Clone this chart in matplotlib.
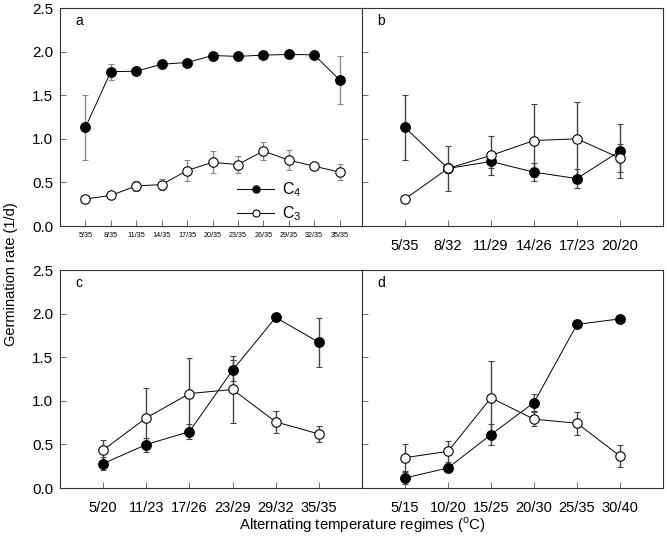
import numpy as np
import matplotlib.pyplot as plt

plt.rcParams['font.family'] = ['Liberation Sans', 'DejaVu Sans']
plt.rcParams['mathtext.fontset'] = 'custom'
plt.rcParams['mathtext.rm'] = 'Liberation Sans'

# panel a
lab_a = ['5/35', '8/35', '11/35', '14/35', '17/35', '20/35', '23/35', '26/35', '29/35', '32/35', '35/35']
c4_a = [1.13, 1.77, 1.775, 1.855, 1.875, 1.955, 1.945, 1.96, 1.967, 1.963, 1.675]
c4_a_err = [0.37, 0.09, 0.02, 0.02, 0.02, 0.02, 0.02, 0.02, 0.02, 0.02, 0.28]
c3_a = [0.31, 0.35, 0.46, 0.475, 0.636, 0.73, 0.705, 0.86, 0.755, 0.686, 0.617]
c3_a_err = [0.02, 0.02, 0.06, 0.065, 0.12, 0.125, 0.10, 0.10, 0.115, 0.02, 0.09]

# panel b
lab_b = ['5/35', '8/32', '11/29', '14/26', '17/23', '20/20']
c4_b = [1.13, 0.66, 0.74, 0.617, 0.544, 0.86]
c4_b_err = [0.37, 0.05, 0.08, 0.10, 0.11, 0.31]
c3_b = [0.31, 0.66, 0.81, 0.98, 1.0, 0.778]
c3_b_err = [0.02, 0.26, 0.22, 0.42, 0.42, 0.16]

# panel c
lab_c = ['5/20', '11/23', '17/26', '23/29', '29/32', '35/35']
c4_c = [0.28, 0.498, 0.647, 1.351, 1.956, 1.67]
c4_c_err = [0.07, 0.08, 0.09, 0.12, 0.02, 0.28]
c3_c = [0.436, 0.804, 1.083, 1.13, 0.758, 0.62]
c3_c_err = [0.11, 0.34, 0.41, 0.38, 0.13, 0.09]

# panel d
lab_d = ['5/15', '10/20', '15/25', '20/30', '25/35', '30/40']
c4_d = [0.115, 0.23, 0.613, 0.98, 1.876, 1.94]
c4_d_err = [0.065, 0.04, 0.12, 0.10, 0.02, 0.02]
c3_d = [0.348, 0.42, 1.034, 0.789, 0.743, 0.367]
c3_d_err = [0.155, 0.12, 0.42, 0.08, 0.13, 0.125]

fig = plt.figure(figsize=(6.67, 5.42), dpi=100, facecolor='white')
W, H = 667.0, 542.0

def make_ax(x0, x1, ytop, ybot):
    return fig.add_axes([x0 / W, 1 - ybot / H, (x1 - x0) / W, (ybot - ytop) / H])

def draw(ax, labels, c4, c4e, c3, c3e, letter, ecol, xmax, small=False, ylab=True):
    x = np.arange(len(labels))
    ax.errorbar(x, c3, yerr=c3e, fmt='none', ecolor=ecol, elinewidth=1.0, capsize=2.5, capthick=0.8, zorder=1)
    ax.errorbar(x, c4, yerr=c4e, fmt='none', ecolor=ecol, elinewidth=1.0, capsize=2.5, capthick=0.8, zorder=1)
    ax.plot(x, c4, 'o-', c='black', lw=0.7, ms=6.8, mfc='black', mec='black', label='C$_4$', zorder=3)
    ax.plot(x, c3, 'o-', c='black', lw=0.7, ms=6.8, mfc='white', mec='black', mew=0.8, label='C$_3$', zorder=3)
    ax.set_xlim(-1, xmax)
    ax.set_ylim(0, 2.5)
    ax.set_xticks(x)
    ax.set_yticks([0, 0.5, 1.0, 1.5, 2.0, 2.5])
    if small:
        ax.set_xticklabels(labels, fontsize=5.2)
        ax.tick_params(axis='x', pad=4)
    else:
        ax.set_xticklabels(labels, fontsize=10.5)
        ax.tick_params(axis='x', pad=9)
    if ylab:
        ax.set_yticklabels(['0.0', '0.5', '1.0', '1.5', '2.0', '2.5'], fontsize=11)
    else:
        ax.set_yticklabels([])
    ax.tick_params(direction='in', length=4, width=0.6, color='#555555')
    ax.tick_params(axis='y', pad=5)
    for s in ax.spines.values():
        s.set_linewidth(0.8)
        s.set_color('#333333')
    ax.text(0.05, 0.92, letter, transform=ax.transAxes, fontsize=10)

ax_a = make_ax(60, 362, 8, 226)
ax_b = make_ax(362, 663, 8, 226)
ax_c = make_ax(60, 362, 270, 488)
ax_d = make_ax(362, 663, 270, 488)

draw(ax_a, lab_a, c4_a, c4_a_err, c3_a, c3_a_err, 'a', '#8a8a8a', 10.88, small=True)
draw(ax_b, lab_b, c4_b, c4_b_err, c3_b, c3_b_err, 'b', '#444444', 6, ylab=False)
draw(ax_c, lab_c, c4_c, c4_c_err, c3_c, c3_c_err, 'c', '#444444', 6)
draw(ax_d, lab_d, c4_d, c4_d_err, c3_d, c3_d_err, 'd', '#444444', 6, ylab=False)

ax_a.legend(loc='upper left', bbox_to_anchor=(0.55, 0.26), frameon=False, fontsize=11.5,
            handlelength=2.3, labelspacing=0.35, markerscale=0.75, handletextpad=0.5, borderpad=0.2)

fig.text(0.016, 1 - 274 / H, 'Germination rate (1/d)', rotation=90, ha='center', va='center', fontsize=10.5)
fig.text(362 / W, 1 - 525 / H, 'Alternating temperature regimes ($^{\\rm o}$C)', ha='center', va='center', fontsize=10.8)

fig.savefig('out.png', dpi=100, facecolor='white')
